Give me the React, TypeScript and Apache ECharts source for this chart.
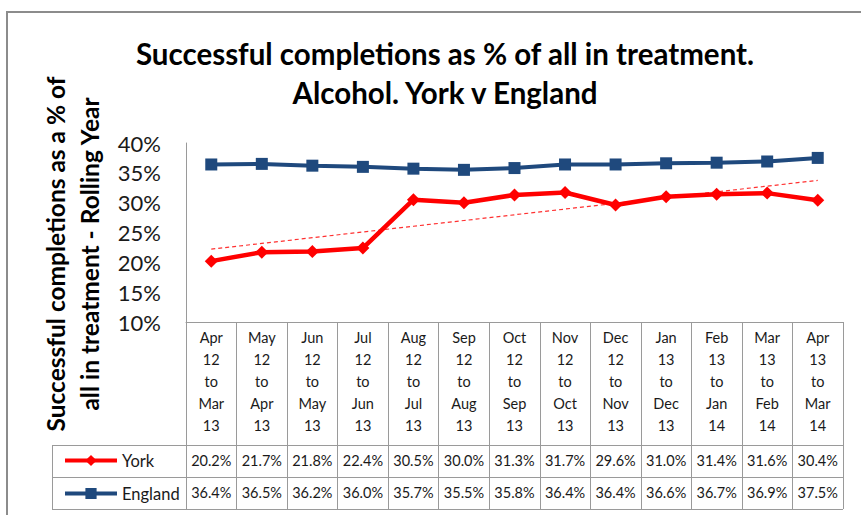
import React, { useEffect, useRef } from "react";
import * as echarts from "echarts";

const categories = [
  "Apr\n12\nto\nMar\n13",
  "May\n12\nto\nApr\n13",
  "Jun\n12\nto\nMay\n13",
  "Jul\n12\nto\nJun\n13",
  "Aug\n12\nto\nJul\n13",
  "Sep\n12\nto\nAug\n13",
  "Oct\n12\nto\nSep\n13",
  "Nov\n12\nto\nOct\n13",
  "Dec\n12\nto\nNov\n13",
  "Jan\n13\nto\nDec\n13",
  "Feb\n13\nto\nJan\n14",
  "Mar\n13\nto\nFeb\n14",
  "Apr\n13\nto\nMar\n14",
];
const york = [20.2, 21.7, 21.8, 22.4, 30.5, 30.0, 31.3, 31.7, 29.6, 31.0, 31.4, 31.6, 30.4];
const england = [36.4, 36.5, 36.2, 36.0, 35.7, 35.5, 35.8, 36.4, 36.4, 36.6, 36.7, 36.9, 37.5];
const yTicks = { min: 10, max: 40, interval: 5 };

const titleText = "Successful completions as % of all in treatment.\nAlcohol. York v England";
const yTitleText = "Successful completions as a % of\nall in treatment - Rolling Year";

// Linear (least-squares) trendline of the York series, as Excel draws it
function trend(values: number[]): number[] {
  const n = values.length;
  const mx = (n - 1) / 2;
  const my = values.reduce((a, b) => a + b, 0) / n;
  let sxy = 0;
  let sxx = 0;
  values.forEach((v, i) => {
    sxy += (i - mx) * (v - my);
    sxx += (i - mx) * (i - mx);
  });
  const slope = sxy / sxx;
  return values.map((_, i) => +(my + slope * (i - mx)).toFixed(3));
}

const FONT = "Lato";
const TXT = "#1a1a1a";
const GRID_LINE = "#9a9a9a";

export default function App() {
  const ref = useRef<HTMLDivElement>(null);
  useEffect(() => {
    if (!ref.current) return;
    const chart = echarts.init(ref.current, undefined, { renderer: "svg" });
    const gridBox = { left: 186, right: 18, top: 143, bottom: 193 };
    const pct = (v: number) => v.toFixed(1) + "%";
    const valueAxis = (idx: number, arr: number[], margin: number) => ({
      type: "category",
      gridIndex: idx,
      data: categories,
      position: "bottom",
      boundaryGap: true,
      axisLine: { show: false },
      axisTick: { show: false },
      axisLabel: {
        interval: 0,
        margin,
        fontFamily: FONT,
        fontSize: 14.5,
        color: TXT,
        formatter: (_: string, i: number) => pct(arr[i]),
      },
    });
    chart.setOption({
      animation: false,
      backgroundColor: "#ffffff",
      title: {
        text: titleText,
        left: 440,
        top: 29,
        textAlign: "center",
        textStyle: {
          fontFamily: FONT,
          fontWeight: "bold",
          fontSize: 29.5,
          lineHeight: 39,
          color: "#000",
        },
      },
      legend: {
        data: ["York", "England"],
        orient: "vertical",
        left: 58,
        top: 447,
        itemWidth: 52,
        itemHeight: 14,
        itemGap: 16,
        lineStyle: { width: 4 },
        textStyle: { fontFamily: FONT, fontSize: 16.5, color: TXT },
      },
      grid: [gridBox, gridBox, gridBox],
      xAxis: [
        {
          type: "category",
          gridIndex: 0,
          data: categories,
          boundaryGap: true,
          axisLine: { lineStyle: { color: GRID_LINE, width: 1 } },
          axisTick: {
            show: true,
            length: 187,
            interval: 0,
            lineStyle: { color: GRID_LINE, width: 1 },
          },
          axisLabel: {
            interval: 0,
            margin: 4,
            fontFamily: FONT,
            fontSize: 14.5,
            lineHeight: 22,
            color: TXT,
          },
        },
        valueAxis(1, york, 131),
        valueAxis(2, england, 163),
      ],
      yAxis: [
        {
          type: "value",
          gridIndex: 0,
          min: yTicks.min,
          max: yTicks.max,
          interval: yTicks.interval,
          axisLine: { show: true, lineStyle: { color: GRID_LINE, width: 1 } },
          axisTick: { show: false },
          splitLine: { show: false },
          axisLabel: {
            margin: 25,
            fontFamily: FONT,
            fontSize: 22,
            color: TXT,
            formatter: "{value}%",
          },
        },
        { type: "value", gridIndex: 1, show: false },
        { type: "value", gridIndex: 2, show: false },
      ],
      series: [
        {
          name: "England",
          type: "line",
          data: england,
          symbol: "rect",
          symbolSize: 12,
          itemStyle: { color: "#1F497D" },
          lineStyle: { color: "#1F497D", width: 4 },
          z: 3,
        },
        {
          name: "York",
          type: "line",
          data: york,
          symbol: "diamond",
          symbolSize: 13,
          itemStyle: { color: "#FF0000" },
          lineStyle: { color: "#FF0000", width: 4.5 },
          z: 4,
        },
        {
          name: "York trend",
          type: "line",
          data: trend(york),
          symbol: "none",
          lineStyle: { color: "#FF3030", width: 1.2, type: [4, 3] },
          z: 2,
        },
      ],
      graphic: [
        {
          type: "rect",
          shape: { x: 7, y: 12, width: 900, height: 600 },
          style: { fill: "none", stroke: "#8c8c8c", lineWidth: 2 },
          silent: true,
        },
        {
          type: "text",
          x: 72,
          y: 254,
          rotation: Math.PI / 2,
          style: {
            text: yTitleText,
            fontFamily: FONT,
            fontWeight: "bold",
            fontSize: 24.5,
            lineHeight: 34,
            fill: "#000",
            align: "center",
            verticalAlign: "middle",
          },
        },
        {
          type: "line",
          shape: { x1: 52, y1: 445.5, x2: 843, y2: 445.5 },
          style: { stroke: GRID_LINE, lineWidth: 1 },
        },
        {
          type: "line",
          shape: { x1: 52, y1: 477.5, x2: 843, y2: 477.5 },
          style: { stroke: GRID_LINE, lineWidth: 1 },
        },
        {
          type: "line",
          shape: { x1: 52, y1: 509.5, x2: 843, y2: 509.5 },
          style: { stroke: GRID_LINE, lineWidth: 1 },
        },
        {
          type: "line",
          shape: { x1: 52.5, y1: 445, x2: 52.5, y2: 510 },
          style: { stroke: GRID_LINE, lineWidth: 1 },
        },
      ],
    });
    return () => chart.dispose();
  }, []);
  return (
    <div
      ref={ref}
      style={{ position: "fixed", left: 0, top: 0, width: 861, height: 515 }}
    />
  );
}
